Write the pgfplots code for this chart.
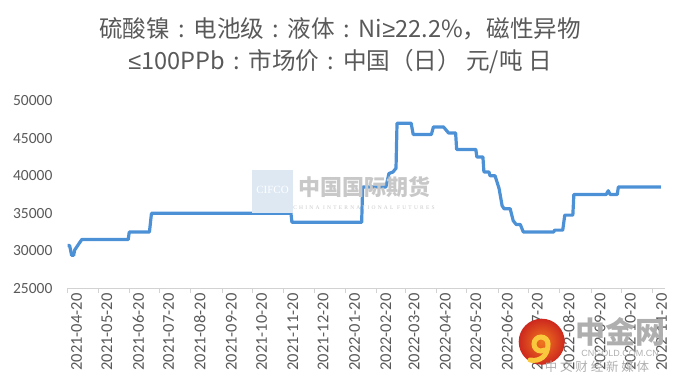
\documentclass[border=0pt]{standalone}
\usepackage{pgfplots}
\pgfplotsset{compat=1.18}
\usepackage{fontspec}
\setmainfont{Carlito}
\newfontfamily\cjk{Noto Sans CJK SC}
\newfontfamily\serifwm{Liberation Serif}
\newfontfamily\sanswm{Liberation Sans}
\newcommand{\cc}{\makebox[1em][c]{:}}
\newcommand{\myge}{{\sanswm ≥}}
\newcommand{\myle}{{\sanswm ≤}}
\definecolor{linecol}{RGB}{76,145,214}
\definecolor{txtgray}{RGB}{89,89,89}
\definecolor{axgray}{RGB}{210,210,210}
\definecolor{wmgray}{RGB}{200,200,200}
\definecolor{wmblue}{RGB}{221,232,243}
\definecolor{logoin}{RGB}{240,120,30}
\definecolor{logoout}{RGB}{205,40,30}
\definecolor{logoyel}{RGB}{250,200,60}
\definecolor{cngray}{RGB}{175,175,175}
\begin{document}
\begin{tikzpicture}[x=1pt,y=1pt]
\path (0,0) rectangle (680,384);
\begin{axis}[
  at={(67.6pt,95.7pt)}, anchor=south west,
  scale only axis, width=597.2pt, height=187.6pt,
  xmin=0, xmax=591, ymin=25000, ymax=50000,
  axis x line*=bottom, axis y line*=left,
  x axis line style={draw=axgray, line width=0.8pt, -},
  y axis line style={draw=none},
  xtick={0,30,61,91,122,153,183,214,244,275,306,334,365,395,426,456,487,518,548,579},
  xticklabels={2021-04-20,2021-05-20,2021-06-20,2021-07-20,2021-08-20,2021-09-20,2021-10-20,2021-11-20,2021-12-20,2022-01-20,2022-02-20,2022-03-20,2022-04-20,2022-05-20,2022-06-20,2022-07-20,2022-08-20,2022-09-20,2022-10-20,2022-11-20},
  xtick align=outside, major tick length=5pt,
  xtick style={draw=axgray, line width=0.8pt},
  ytick={25000,30000,35000,40000,45000,50000},
  scaled y ticks=false,
  ytick style={draw=none},
  /pgf/number format/assume math mode=true,
  /pgf/number format/1000 sep={},
  tick label style={text=txtgray},
  xticklabel style={font=\fontsize{16.5}{16.5}\selectfont, rotate=90, anchor=east, inner sep=0pt, yshift=-9pt},
  yticklabel style={font=\fontsize{15.5}{15.5}\selectfont, anchor=east, inner sep=0pt, xshift=-15pt},
  clip=false,
]
\addplot[linecol, line width=3.2pt, line join=round] coordinates {
(0,30700) (2,30700) (4,29400) (6,29400) (7,30100) (10,30700) (14,31500)
(60,31500) (61,32500) (81,32500) (83,35000) (221,35000) (222,33800)
(291,33800) (292,38500) (315,38500) (318,40300) (322,40500) (325,41000)
(326,47000) (340,47000) (342,45500) (360,45500) (362,46500) (372,46500)
(377,45700) (384,45700) (385,43500) (404,43500) (405,42500) (411,42500)
(412,40500) (417,40500) (418,40000) (423,40000) (427,38300) (430,36000)
(432,35600) (438,35600) (441,34000) (444,33500) (448,33500) (451,32500)
(481,32500) (482,32750) (490,32750) (492,34750) (500,34750) (501,37500)
(533,37500) (535,38000) (537,37500) (544,37500) (545,38500) (587,38500)
};
\end{axis}
% title
\node[text=txtgray, font=\cjk\fontsize{23.6}{23.6}\selectfont] at (340,355) {硫酸镍\cc 电池级\cc 液体\cc Ni\myge 22.2\%，磁性异物};
\node[text=txtgray, font=\cjk\fontsize{23.6}{23.6}\selectfont] at (340,322) {\myle 100PPb\cc 市场价\cc 中国（日） 元/吨 日};
% CIFCO watermark
\fill[wmblue] (252,171) rectangle (293,214);
\node[text=white, font=\serifwm\fontsize{11}{11}\selectfont] at (272.5,194) {CIFCO};
\node[text=wmgray, font=\cjk\bfseries\fontsize{22}{22}\selectfont] at (364,197) {中国国际期货};
\node[text=wmgray, font=\serifwm\fontsize{5.5}{5.5}\selectfont\addfontfeatures{LetterSpace=40}] at (364,176.7) {CHINA INTERNATIONAL FUTURES};
% cngold watermark
\shade[inner color=logoin, outer color=logoout] (541.7,42.3) circle (23);
\draw[logoyel, line width=5pt, line cap=round] (548,40) arc (0:300:7);
\draw[logoyel, line width=5pt, line cap=round] (548,40) .. controls (548,28) and (540,22) .. (530,24);
\node[text=cngray, font=\cjk\bfseries\fontsize{30}{30}\selectfont] at (620,52) {中金网};
\node[text=cngray, font=\sanswm\fontsize{9}{9}\selectfont] at (620,31) {CNGOLD.COM.CN};
\node[text=cngray, font=\cjk\fontsize{12.5}{12.5}\selectfont] at (597,17) {中\ 文\ 财\ 经\ 新\ 媒\ 体};
\end{tikzpicture}
\end{document}
